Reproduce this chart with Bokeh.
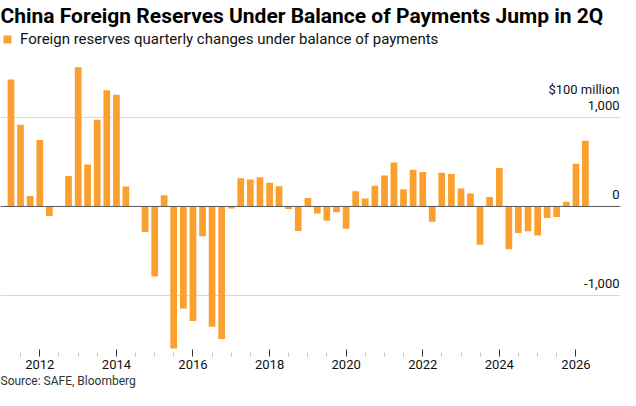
import datetime as dt
import pandas as pd
from bokeh.plotting import figure
from bokeh.models import (ColumnDataSource, Range1d, FixedTicker, DatetimeTickFormatter,
                          Legend, LegendItem, Title, Span)
from bokeh.core.properties import value
from bokeh.embed import file_html
from bokeh.resources import INLINE

# ---- data ($100 million, quarterly change of reserve assets) ----
quarters = [str(q) for q in pd.period_range("2011Q2", "2026Q2", freq="Q")]
changes = [1425, 918, 116, 746, -108, -3, 343, 1563, 470, 974, 1306, 1254, 224, 0,
           -287, -787, 127, -1597, -1146, -1287, -336, -1351, -1489, -22, 317, 302,
           328, 265, 228, -30, -276, 95, -80, -162, -65, -250, 172, 90, 233, 347, 493,
           194, 412, 386, -173, 379, 364, 201, 146, -431, 106, 431, -480, -297, -278,
           -326, -129, -119, 52, 480, 739]
grid_values = [-1000, 0, 1000]
grid_labels = ["-1,000", "0", "1,000"]
major_years = [2012, 2014, 2016, 2018, 2020, 2022, 2024, 2026]
unit_label = "$100 million"
title_text = "China Foreign Reserves Under Balance of Payments Jump in 2Q"
legend_text = "Foreign reserves quarterly changes under balance of payments"
source_text = "Source: SAFE, Bloomberg"

ORANGE = "#FBA02E"

def ms(d):
    return (d - dt.datetime(1970, 1, 1)).total_seconds() * 1000.0

dates = [pd.Period(q).start_time.to_pydatetime() for q in quarters]
src = ColumnDataSource(dict(x=dates, v=changes))

x_start = dt.datetime(2010, 12, 22)
x_end = dt.datetime(2027, 3, 2)

p = figure(width=620, height=390, x_axis_type="datetime", y_axis_location=None,
           x_range=Range1d(x_start, x_end), y_range=Range1d(-1607, 1999),
           toolbar_location=None, output_backend="svg",
           min_border_left=0, min_border_right=0, min_border_top=27, min_border_bottom=41,
           outline_line_color=None, background_fill_color="white", border_fill_color="white")

p.xgrid.visible = False
p.ygrid.visible = False

for gv in grid_values:
    p.add_layout(Span(location=gv, dimension="width",
                      line_color="#555555" if gv == 0 else "#D6D6D6", line_width=1,
                      level="underlay" if gv != 0 else "overlay"))

r = p.vbar(x="x", top="v", bottom=0, width=64 * 86400000, source=src,
           fill_color=ORANGE, line_color=None)

# x axis
major = [ms(dt.datetime(y, 1, 1)) for y in major_years]
minor = []
for y in range(2011, 2026):
    for m in (1, 7):
        d = dt.datetime(y, m, 1)
        if d < dt.datetime(2011, 7, 1) or d > dt.datetime(2025, 7, 1):
            continue
        if m == 1 and y in major_years:
            continue
        minor.append(ms(d))
ax = p.xaxis[0]
ax.ticker = FixedTicker(ticks=major, minor_ticks=minor)
ax.formatter = DatetimeTickFormatter(years="%Y", months="%Y", days="%Y", hours="%Y")
ax.axis_line_color = None
ax.major_tick_line_color = "#333333"
ax.major_tick_in = 0
ax.major_tick_out = 7
ax.minor_tick_line_color = "#C8C8C8"
ax.minor_tick_in = -3
ax.minor_tick_out = 7
ax.major_label_standoff = 3
ax.major_label_text_font = "Roboto"
ax.major_label_text_font_size = "13px"
ax.major_label_text_color = "#111111"

# right-side value labels inside the plot
p.text(x=[x_end] * len(grid_values), y=grid_values, text=grid_labels,
       text_align="right", text_baseline="alphabetic", x_offset=-1, y_offset=-12,
       text_font=value("Roboto"), text_font_size="13px", text_color="#111111")
p.text(x=[x_end], y=[grid_values[-1]], text=[unit_label],
       text_align="right", text_baseline="alphabetic", x_offset=-1, y_offset=-28,
       text_font=value("Roboto"), text_font_size="13px", text_color="#111111")

# legend inside the frame, top-left
legend = Legend(items=[LegendItem(label=legend_text, renderers=[r])],
                orientation="horizontal", location="top_left",
                glyph_width=10, glyph_height=10, label_standoff=8, label_height=10,
                label_text_font="Roboto", label_text_font_size="15px",
                label_text_color="#111111", label_text_baseline="middle",
                padding=0, margin=2, border_line_color=None, background_fill_alpha=0)
p.add_layout(legend)

# title
p.title.text = title_text
p.title.text_font = "Roboto"
p.title.text_font_style = "bold"
p.title.text_font_size = "21px"
p.title.text_color = "#000000"
p.title.align = "left"
p.title.offset = 0
p.title.standoff = 2

p.add_layout(Title(text=source_text, align="left", offset=0, standoff=0, text_font="Roboto",
                   text_font_size="12px", text_font_style="normal",
                   text_color="#333333"), "below")

open("out.html", "w").write(file_html(p, INLINE))
